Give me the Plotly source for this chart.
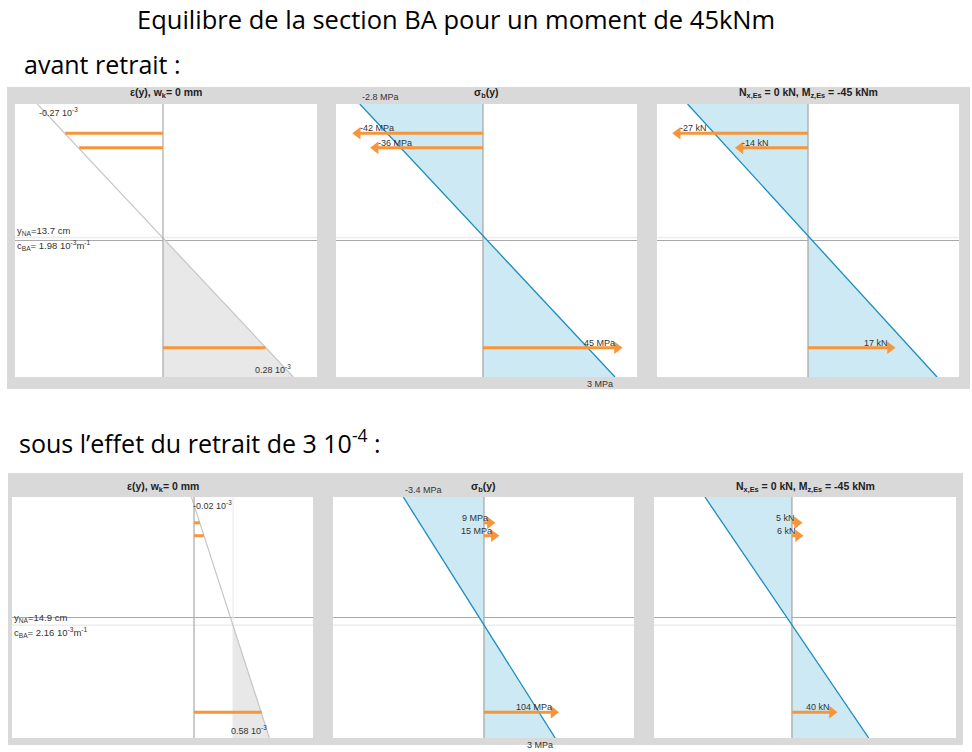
import plotly.graph_objects as go

W, H = 972, 752

# ---------------- data ----------------
h_sec = 28.0                      # section height (cm)
y_mid = 14.0                      # mid-height of the section (cm)
rebar_depth = [3.0, 4.5, 25.0]    # rebar depths from top (cm)

# before shrinkage
eps_sh_0 = 0.0                    # 1e-3
eps_edges_0 = [-0.27, 0.28]       # strain top / bottom (1e-3)
eps_steel_0 = [-0.21, -0.18, 0.22]
y_NA_0 = 13.7                     # cm
curv_0 = 1.98                     # 1e-3 / m
sig_edges_0 = [-2.8, 3.0]         # concrete stress top / bottom (MPa)
sig_steel_0 = [-42, -36, 45]      # steel stress (MPa)
F_steel_0 = [-27, -14, 17]        # steel force (kN)

# with shrinkage 3e-4
eps_sh_1 = 0.3
eps_edges_1 = [-0.02, 0.58]
eps_steel_1 = [0.045, 0.075, 0.52]
y_NA_1 = 14.9
curv_1 = 2.16
sig_edges_1 = [-3.4, 3.0]
sig_steel_1 = [9, 15, 104]
F_steel_1 = [5, 6, 40]

N_Es = 0       # kN
M_Es = -45     # kNm
w_k = 0        # mm

# ---------------- styles ----------------
FRAME = '#d9d9d9'
STRAIN_LINE = '#c6c6c6'
STRAIN_FILL = '#e8e8e8'
BLUE_LINE = '#1a8cc0'
BLUE_FILL = '#cde9f3'
ORANGE = '#f7953b'
AXIS = '#a9a9a9'
NA_LIGHT = '#ececec'
TXT = '#333333'
PF = 'Liberation Sans, Arial, sans-serif'

# plot areas in pixels (x0, x1, y0, y1)
P = {
    1: (15, 317, 104, 377),
    2: (336, 637, 104, 377),
    3: (657, 959, 104, 377),
    4: (12, 313, 497, 738),
    5: (333, 634, 497, 738),
    6: (654, 956, 497, 738),
}
frames = [(7, 970, 87, 389), (8, 963, 473, 745)]

# axis ranges
xr = {
    'x': [-0.318, 0.331],        # strain before
    'x2': [-3.34, 3.50],         # concrete stress before
    'x3': [-49.3, 51.7],         # steel stress before
    'x4': [-3.51, 3.51],         # concrete (force panel) before
    'x5': [-31.3, 31.3],         # steel force before
    'x6': [-1.40, 0.915],        # strain after
    'x7': [-6.36, 6.32],         # concrete stress after
    'x8': [-225.0, 224.0],       # steel stress after
    'x9': [-5.39, 6.41],         # concrete (force panel) after
    'x10': [-138.0, 164.0],      # steel force after
}


def dx(p):
    return [P[p][0] / W, P[p][1] / W]


def dy(p):
    return [1 - P[p][3] / H, 1 - P[p][2] / H]


hidden = dict(showgrid=False, zeroline=False, showticklabels=False,
              showline=False, ticks='', fixedrange=True)

layout_axes = {}
# panel -> (main x, y, steel x)
spec = {1: ('x', 'y', None), 2: ('x2', 'y2', 'x3'), 3: ('x4', 'y3', 'x5'),
        4: ('x6', 'y4', None), 5: ('x7', 'y5', 'x8'), 6: ('x9', 'y6', 'x10')}


def axname(a):
    return a[0] + 'axis' + a[1:]


for p, (xa, ya, sa) in spec.items():
    layout_axes[axname(xa)] = dict(domain=dx(p), range=xr[xa], anchor=ya, **hidden)
    layout_axes[axname(ya)] = dict(domain=dy(p), range=[h_sec, 0], anchor=xa, **hidden)
    if sa:
        layout_axes[axname(sa)] = dict(domain=dx(p), range=xr[sa], anchor=ya,
                                       overlaying=xa, **hidden)

fig = go.Figure()
shapes = []
ann = []

for (a, b, c, d) in frames:
    shapes.append(dict(type='rect', xref='paper', yref='paper', x0=a / W, x1=b / W,
                       y0=1 - d / H, y1=1 - c / H, fillcolor=FRAME, line=dict(width=0),
                       layer='below'))
for p in P:
    a, b, c, d = P[p]
    shapes.append(dict(type='rect', xref='paper', yref='paper', x0=a / W, x1=b / W,
                       y0=1 - d / H, y1=1 - c / H, fillcolor='white', line=dict(width=0),
                       layer='below'))


def segs(vals, depths):
    X, Y = [], []
    for v, dd in zip(vals, depths):
        X += [0, v, None]
        Y += [dd, dd, None]
    return X, Y


def hlines(xa, ya, y_na):
    shapes.append(dict(type='line', xref=xa + ' domain', yref=ya, x0=0, x1=1,
                       y0=y_na, y1=y_na, line=dict(color=NA_LIGHT, width=1.5), layer='below'))
    shapes.append(dict(type='line', xref=xa + ' domain', yref=ya, x0=0, x1=1,
                       y0=y_mid, y1=y_mid, line=dict(color=AXIS, width=1), layer='below'))


def txt(text, xref, yref, x, y, xanchor, yanchor, xshift=0, yshift=0, bold=False, size=9):
    ann.append(dict(text=text, xref=xref, yref=yref, x=x, y=y, xanchor=xanchor,
                    yanchor=yanchor, xshift=xshift, yshift=yshift, showarrow=False,
                    font=dict(family=PF, size=size, color=TXT if not bold else '#222')))


def strain_panel(p, eps_sh, eps_edges, eps_steel, y_na, curv):
    xa, ya, _ = spec[p]
    hlines(xa, ya, y_na)
    if eps_sh != 0:
        fig.add_trace(go.Scatter(x=[eps_sh, eps_sh], y=[0, h_sec], xaxis=xa, yaxis=ya,
                                 mode='lines', line=dict(color=NA_LIGHT, width=1.2),
                                 hoverinfo='skip', showlegend=False))
    fig.add_trace(go.Scatter(x=[eps_sh, eps_edges[1], eps_sh], y=[y_na, h_sec, h_sec],
                             xaxis=xa, yaxis=ya, mode='lines', fill='toself',
                             fillcolor=STRAIN_FILL, line=dict(width=0),
                             hoverinfo='skip', showlegend=False))
    fig.add_trace(go.Scatter(x=eps_edges, y=[0, h_sec], xaxis=xa, yaxis=ya, mode='lines',
                             line=dict(color=STRAIN_LINE, width=1.2),
                             hoverinfo='skip', showlegend=False))
    fig.add_trace(go.Scatter(x=[0, 0], y=[0, h_sec], xaxis=xa, yaxis=ya, mode='lines',
                             line=dict(color=AXIS, width=1.2),
                             hoverinfo='skip', showlegend=False))
    X, Y = segs(eps_steel, rebar_depth)
    fig.add_trace(go.Scatter(x=X, y=Y, xaxis=xa, yaxis=ya, mode='lines',
                             line=dict(color=ORANGE, width=3),
                             hoverinfo='skip', showlegend=False))
    txt(f"{eps_edges[0]:g} 10<sup>-3</sup>", xa, ya, eps_edges[0], 0, 'left', 'top')
    txt(f"{eps_edges[1]:g} 10<sup>-3</sup>", xa, ya, eps_edges[1], h_sec, 'right', 'bottom')
    txt(f"y<sub>NA</sub>={y_na:g} cm", xa + ' domain', ya, 0, y_na, 'left', 'bottom',
        yshift=-1, size=9.5)
    txt(f"c<sub>BA</sub>= {curv:g} 10<sup>-3</sup>m<sup>-1</sup>", xa + ' domain', ya, 0, y_na,
        'left', 'top', yshift=1, size=9.5)


def stress_panel(p, y_na, sig_edges, steel_vals, unit, edge_labels):
    xa, ya, sa = spec[p]
    hlines(xa, ya, y_na)
    fig.add_trace(go.Scatter(x=[0, sig_edges[0], sig_edges[1], 0], y=[0, 0, h_sec, h_sec],
                             xaxis=xa, yaxis=ya, mode='lines', fill='toself',
                             fillcolor=BLUE_FILL, line=dict(width=0),
                             hoverinfo='skip', showlegend=False))
    fig.add_trace(go.Scatter(x=[0, 0], y=[0, h_sec], xaxis=xa, yaxis=ya, mode='lines',
                             line=dict(color=AXIS, width=1.3),
                             hoverinfo='skip', showlegend=False))
    fig.add_trace(go.Scatter(x=sig_edges, y=[0, h_sec], xaxis=xa, yaxis=ya, mode='lines',
                             line=dict(color=BLUE_LINE, width=1.3),
                             hoverinfo='skip', showlegend=False))
    X, Y = segs(steel_vals, rebar_depth)
    fig.add_trace(go.Scatter(x=X, y=Y, xaxis=sa, yaxis=ya, mode='lines',
                             line=dict(color=ORANGE, width=3),
                             hoverinfo='skip', showlegend=False))
    fig.add_trace(go.Scatter(x=steel_vals, y=rebar_depth, xaxis=sa, yaxis=ya, mode='markers',
                             marker=dict(symbol=['triangle-right' if v > 0 else 'triangle-left'
                                                 for v in steel_vals],
                                         size=11, color=ORANGE, line=dict(width=0)),
                             hoverinfo='skip', showlegend=False))
    for v, dd in zip(steel_vals, rebar_depth):
        txt(f"{v:g} {unit}", sa, ya, v, dd, 'right' if v > 0 else 'left', 'bottom', yshift=-2)
    if edge_labels:
        txt(f"{sig_edges[0]:g} MPa", xa, ya, sig_edges[0], 0, 'left', 'bottom')
        txt(f"{sig_edges[1]:g} MPa", xa, ya, sig_edges[1], h_sec, 'right', 'top')


strain_panel(1, eps_sh_0, eps_edges_0, eps_steel_0, y_NA_0, curv_0)
stress_panel(2, y_NA_0, sig_edges_0, sig_steel_0, 'MPa', True)
stress_panel(3, y_NA_0, sig_edges_0, F_steel_0, 'kN', False)
strain_panel(4, eps_sh_1, eps_edges_1, eps_steel_1, y_NA_1, curv_1)
stress_panel(5, y_NA_1, sig_edges_1, sig_steel_1, 'MPa', True)
stress_panel(6, y_NA_1, sig_edges_1, F_steel_1, 'kN', False)

# panel titles
titles = {
    1: f"<b>\u03b5(y), w<sub>k</sub>= {w_k:g} mm</b>",
    2: "<b>\u03c3<sub>b</sub>(y)</b>",
    3: f"<b>N<sub>x,Es</sub> = {N_Es:g} kN, M<sub>z,Es</sub> = {M_Es:g} kNm</b>",
}
titles[4], titles[5], titles[6] = titles[1], titles[2], titles[3]
for p, t in titles.items():
    xa = spec[p][0]
    ty = 93 if p <= 3 else 487
    txt(t, xa + ' domain', 'paper', 0.5, 1 - ty / H, 'center', 'middle', bold=True, size=10.5)

# slide texts
BIG = 'Open Sans, sans-serif'
ann.append(dict(text="Equilibre de la section BA pour un moment de 45kNm", xref='paper',
                yref='paper', x=455.5 / W, y=1, xanchor='center', yanchor='top',
                showarrow=False, font=dict(family=BIG, size=25.5, color='#000')))
ann.append(dict(text="avant retrait :", xref='paper', yref='paper', x=22 / W, y=1 - 64 / H,
                xanchor='left', yanchor='middle', showarrow=False,
                font=dict(family=BIG, size=25, color='#000')))
ann.append(dict(text="sous l\u2019effet du retrait de 3 10<sup>-4</sup> :", xref='paper',
                yref='paper', x=17 / W, y=1 - 441 / H, xanchor='left', yanchor='middle',
                showarrow=False, font=dict(family=BIG, size=25, color='#000')))

fig.update_layout(width=W, height=H, margin=dict(l=0, r=0, t=0, b=0),
                  paper_bgcolor='white', plot_bgcolor='rgba(0,0,0,0)',
                  showlegend=False, shapes=shapes, annotations=ann, **layout_axes)

fig.write_html("out.html", config={'displayModeBar': False})
